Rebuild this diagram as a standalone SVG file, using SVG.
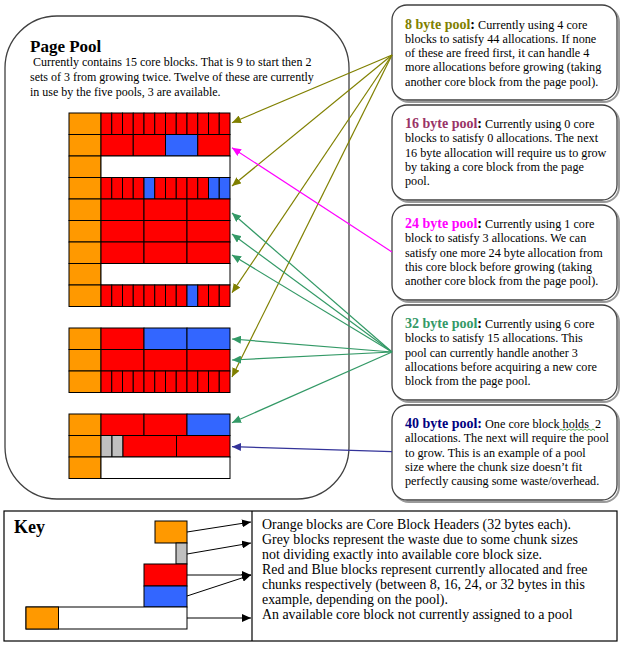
<svg xmlns="http://www.w3.org/2000/svg" width="622" height="645" viewBox="0 0 622 645">
<defs>
<style>
text{font-family:"Liberation Serif","Times New Roman",serif;fill:#000}
.body{font-size:12.2px}
.pp{font-size:12px}
.key{font-size:13.9px}
.ttl{font-size:14px;font-weight:bold}
.h{fill:#FF9900;stroke:#000;stroke-width:1}
.r{fill:#FF0000;stroke:#000;stroke-width:1}
.b{fill:#3366FF;stroke:#000;stroke-width:1}
.g{fill:#C0C0C0;stroke:#000;stroke-width:1}
.w{fill:#FFFFFF;stroke:#000;stroke-width:1}
.box{fill:#FFFFFF;stroke:#404040;stroke-width:1.3}
.shadow{fill:none;stroke:#9a9a9a;stroke-width:2}
.ol{stroke:#808000;stroke-width:1.2;fill:none}
.gr{stroke:#339966;stroke-width:1.2;fill:none}
.mg{stroke:#FF00FF;stroke-width:1.2;fill:none}
.nv{stroke:#333399;stroke-width:1.2;fill:none}
.kl{stroke:#000;stroke-width:1;fill:none}
</style>
<marker id="mOl" markerWidth="10" markerHeight="8" refX="9" refY="4" orient="auto" markerUnits="userSpaceOnUse"><path d="M0,0 L9,4 L0,8 z" fill="#808000"/></marker>
<marker id="mGr" markerWidth="10" markerHeight="8" refX="9" refY="4" orient="auto" markerUnits="userSpaceOnUse"><path d="M0,0 L9,4 L0,8 z" fill="#339966"/></marker>
<marker id="mMg" markerWidth="10" markerHeight="8" refX="9" refY="4" orient="auto" markerUnits="userSpaceOnUse"><path d="M0,0 L9,4 L0,8 z" fill="#FF00FF"/></marker>
<marker id="mNv" markerWidth="10" markerHeight="8" refX="9" refY="4" orient="auto" markerUnits="userSpaceOnUse"><path d="M0,0 L9,4 L0,8 z" fill="#333399"/></marker>
<marker id="mBk" markerWidth="10" markerHeight="8" refX="9" refY="4" orient="auto" markerUnits="userSpaceOnUse"><path d="M0,0 L9,4 L0,8 z" fill="#000"/></marker>
</defs>
<rect width="622" height="645" fill="#FFFFFF"/>

<g id="page-pool">
<rect x="5" y="16" width="344" height="483" rx="52" ry="52" fill="#FFFFFF" stroke="#404040" stroke-width="1.3"/>
<text x="30" y="52" style="font-size:17px;font-weight:bold">Page Pool</text>
<text class="pp" x="33" y="66">Currently contains 15 core blocks. That is 9 to start then 2</text>
<text class="pp" x="30" y="81">sets of 3 from growing twice. Twelve of these are currently</text>
<text class="pp" x="30" y="96">in use by the five pools, 3 are available.</text>
</g>

<g id="blocks-group1">
<rect class="h" x="69" y="113" width="32" height="21.5"/>
<rect class="r" x="101" y="113" width="10.75" height="21.5"/><rect class="r" x="111.75" y="113" width="10.75" height="21.5"/><rect class="r" x="122.5" y="113" width="10.75" height="21.5"/><rect class="r" x="133.25" y="113" width="10.75" height="21.5"/><rect class="r" x="144" y="113" width="10.75" height="21.5"/><rect class="r" x="154.75" y="113" width="10.75" height="21.5"/><rect class="r" x="165.5" y="113" width="10.75" height="21.5"/><rect class="r" x="176.25" y="113" width="10.75" height="21.5"/><rect class="r" x="187" y="113" width="10.75" height="21.5"/><rect class="r" x="197.75" y="113" width="10.75" height="21.5"/><rect class="r" x="208.5" y="113" width="10.75" height="21.5"/><rect class="r" x="219.25" y="113" width="10.75" height="21.5"/>
<rect class="h" x="69" y="134.5" width="32" height="21.5"/>
<rect class="r" x="101" y="134.5" width="32.25" height="21.5"/><rect class="r" x="133.25" y="134.5" width="32.25" height="21.5"/><rect class="b" x="165.5" y="134.5" width="32.25" height="21.5"/><rect class="r" x="197.75" y="134.5" width="32.25" height="21.5"/>
<rect class="h" x="69" y="156" width="32" height="21.5"/>
<rect class="w" x="101" y="156" width="129" height="21.5"/>
<rect class="h" x="69" y="177.5" width="32" height="21.5"/>
<rect class="r" x="101" y="177.5" width="10.75" height="21.5"/><rect class="r" x="111.75" y="177.5" width="10.75" height="21.5"/><rect class="r" x="122.5" y="177.5" width="10.75" height="21.5"/><rect class="r" x="133.25" y="177.5" width="10.75" height="21.5"/><rect class="b" x="144" y="177.5" width="10.75" height="21.5"/><rect class="r" x="154.75" y="177.5" width="10.75" height="21.5"/><rect class="r" x="165.5" y="177.5" width="10.75" height="21.5"/><rect class="r" x="176.25" y="177.5" width="10.75" height="21.5"/><rect class="r" x="187" y="177.5" width="10.75" height="21.5"/><rect class="r" x="197.75" y="177.5" width="10.75" height="21.5"/><rect class="b" x="208.5" y="177.5" width="10.75" height="21.5"/><rect class="b" x="219.25" y="177.5" width="10.75" height="21.5"/>
<rect class="h" x="69" y="199" width="32" height="21.5"/>
<rect class="r" x="101" y="199" width="43" height="21.5"/><rect class="r" x="144" y="199" width="43" height="21.5"/><rect class="r" x="187" y="199" width="43" height="21.5"/>
<rect class="h" x="69" y="220.5" width="32" height="21.5"/>
<rect class="r" x="101" y="220.5" width="43" height="21.5"/><rect class="r" x="144" y="220.5" width="43" height="21.5"/><rect class="r" x="187" y="220.5" width="43" height="21.5"/>
<rect class="h" x="69" y="242" width="32" height="21.5"/>
<rect class="r" x="101" y="242" width="43" height="21.5"/><rect class="r" x="144" y="242" width="43" height="21.5"/><rect class="r" x="187" y="242" width="43" height="21.5"/>
<rect class="h" x="69" y="263.5" width="32" height="21.5"/>
<rect class="w" x="101" y="263.5" width="129" height="21.5"/>
<rect class="h" x="69" y="285" width="32" height="21.5"/>
<rect class="r" x="101" y="285" width="10.75" height="21.5"/><rect class="r" x="111.75" y="285" width="10.75" height="21.5"/><rect class="r" x="122.5" y="285" width="10.75" height="21.5"/><rect class="r" x="133.25" y="285" width="10.75" height="21.5"/><rect class="r" x="144" y="285" width="10.75" height="21.5"/><rect class="r" x="154.75" y="285" width="10.75" height="21.5"/><rect class="r" x="165.5" y="285" width="10.75" height="21.5"/><rect class="r" x="176.25" y="285" width="10.75" height="21.5"/><rect class="b" x="187" y="285" width="10.75" height="21.5"/><rect class="r" x="197.75" y="285" width="10.75" height="21.5"/><rect class="r" x="208.5" y="285" width="10.75" height="21.5"/><rect class="r" x="219.25" y="285" width="10.75" height="21.5"/>
</g>

<g id="blocks-group2">
<rect class="h" x="69" y="328" width="32" height="21.5"/>
<rect class="r" x="101" y="328" width="43" height="21.5"/><rect class="b" x="144" y="328" width="43" height="21.5"/><rect class="b" x="187" y="328" width="43" height="21.5"/>
<rect class="h" x="69" y="349.5" width="32" height="21.5"/>
<rect class="r" x="101" y="349.5" width="43" height="21.5"/><rect class="r" x="144" y="349.5" width="43" height="21.5"/><rect class="r" x="187" y="349.5" width="43" height="21.5"/>
<rect class="h" x="69" y="371" width="32" height="21.5"/>
<rect class="r" x="101" y="371" width="10.75" height="21.5"/><rect class="r" x="111.75" y="371" width="10.75" height="21.5"/><rect class="r" x="122.5" y="371" width="10.75" height="21.5"/><rect class="r" x="133.25" y="371" width="10.75" height="21.5"/><rect class="r" x="144" y="371" width="10.75" height="21.5"/><rect class="r" x="154.75" y="371" width="10.75" height="21.5"/><rect class="r" x="165.5" y="371" width="10.75" height="21.5"/><rect class="r" x="176.25" y="371" width="10.75" height="21.5"/><rect class="r" x="187" y="371" width="10.75" height="21.5"/><rect class="r" x="197.75" y="371" width="10.75" height="21.5"/><rect class="r" x="208.5" y="371" width="10.75" height="21.5"/><rect class="r" x="219.25" y="371" width="10.75" height="21.5"/>
</g>

<g id="blocks-group3">
<rect class="h" x="69" y="414" width="32" height="21.5"/>
<rect class="r" x="101" y="414" width="43" height="21.5"/><rect class="r" x="144" y="414" width="43" height="21.5"/><rect class="b" x="187" y="414" width="43" height="21.5"/>
<rect class="h" x="69" y="435.5" width="32" height="21.5"/>
<rect class="g" x="101" y="435.5" width="11" height="21.5"/><rect class="g" x="112" y="435.5" width="11" height="21.5"/><rect class="r" x="123" y="435.5" width="53.5" height="21.5"/><rect class="r" x="176.5" y="435.5" width="53.5" height="21.5"/>
<rect class="h" x="69" y="457" width="32" height="21.5"/>
<rect class="w" x="101" y="457" width="129" height="21.5"/>
</g>

<g id="pool-8">
<rect class="shadow" x="394" y="7" width="225" height="95" rx="15"/>
<rect class="box" x="392" y="5" width="225" height="95" rx="15"/>
<text class="body" x="405" y="28.5"><tspan class="ttl" fill="#808000">8 byte pool</tspan><tspan class="ttl">:</tspan> Currently using 4 core</text>
<text class="body" x="405" y="42.8">blocks to satisfy 44 allocations. If none</text>
<text class="body" x="405" y="57.1">of these are freed first, it can handle 4</text>
<text class="body" x="405" y="71.4">more allocations before growing (taking</text>
<text class="body" x="405" y="85.7">another core block from the page pool).</text>
</g>

<g id="pool-16">
<rect class="shadow" x="394" y="107" width="225" height="95" rx="15"/>
<rect class="box" x="392" y="105" width="225" height="95" rx="15"/>
<text class="body" x="405" y="128"><tspan class="ttl" fill="#993366">16 byte pool</tspan><tspan class="ttl">:</tspan> Currently using 0 core</text>
<text class="body" x="405" y="142.3">blocks to satisfy 0 allocations. The next</text>
<text class="body" x="405" y="156.6">16 byte allocation will require us to grow</text>
<text class="body" x="405" y="170.9">by taking a core block from the page</text>
<text class="body" x="405" y="185.2">pool.</text>
</g>

<g id="pool-24">
<rect class="shadow" x="394" y="207" width="225" height="95" rx="15"/>
<rect class="box" x="392" y="205" width="225" height="95" rx="15"/>
<text class="body" x="405" y="228"><tspan class="ttl" fill="#FF00FF">24 byte pool</tspan><tspan class="ttl">:</tspan> Currently using 1 core</text>
<text class="body" x="405" y="242.3">block to satisfy 3 allocations. We can</text>
<text class="body" x="405" y="256.6">satisfy one more 24 byte allocation from</text>
<text class="body" x="405" y="270.9">this core block before growing (taking</text>
<text class="body" x="405" y="285.2">another core block from the page pool).</text>
</g>

<g id="pool-32">
<rect class="shadow" x="394" y="307" width="225" height="95" rx="15"/>
<rect class="box" x="392" y="305" width="225" height="95" rx="15"/>
<text class="body" x="405" y="328"><tspan class="ttl" fill="#339966">32 byte pool</tspan><tspan class="ttl">:</tspan> Currently using 6 core</text>
<text class="body" x="405" y="342.3">blocks to satisfy 15 allocations. This</text>
<text class="body" x="405" y="356.6">pool can currently handle another 3</text>
<text class="body" x="405" y="370.9">allocations before acquiring a new core</text>
<text class="body" x="405" y="385.2">block from the page pool.</text>
</g>

<g id="pool-40">
<rect class="shadow" x="394" y="407" width="225" height="95" rx="15"/>
<rect class="box" x="392" y="405" width="225" height="95" rx="15"/>
<text class="body" x="405" y="428"><tspan class="ttl" fill="#000080">40 byte pool:</tspan> One core block holds&#160; 2</text>
<path d="M559,430.5 l2,-1.5 l2,1.5 l2,-1.5 l2,1.5 l2,-1.5 l2,1.5 l2,-1.5 l2,1.5 l2,-1.5 l2,1.5 l2,-1.5 l2,1.5 l2,-1.5 l2,1.5 l2,-1.5 l2,1.5 l2,-1.5 l2,1.5" fill="none" stroke="#339933" stroke-width="0.8"/>
<text class="body" x="405" y="442.3">allocations. The next will require the pool</text>
<text class="body" x="405" y="456.6">to grow. This is an example of a pool</text>
<text class="body" x="405" y="470.9">size where the chunk size doesn’t fit</text>
<text class="body" x="405" y="485.2">perfectly causing some waste/overhead.</text>
</g>

<g id="connectors">
<line class="ol" x1="392" y1="55" x2="232" y2="122.7" marker-end="url(#mOl)"/>
<line class="ol" x1="392" y1="55" x2="232" y2="186" marker-end="url(#mOl)"/>
<line class="ol" x1="392" y1="55" x2="232" y2="292.7" marker-end="url(#mOl)"/>
<line class="ol" x1="392" y1="55" x2="232" y2="377" marker-end="url(#mOl)"/>
<line class="mg" x1="392" y1="252" x2="232" y2="147.7" marker-end="url(#mMg)"/>
<line class="gr" x1="392" y1="352" x2="232" y2="213" marker-end="url(#mGr)"/>
<line class="gr" x1="392" y1="352" x2="232" y2="234" marker-end="url(#mGr)"/>
<line class="gr" x1="392" y1="352" x2="232" y2="255" marker-end="url(#mGr)"/>
<line class="gr" x1="392" y1="352" x2="232" y2="339" marker-end="url(#mGr)"/>
<line class="gr" x1="392" y1="352" x2="232" y2="360" marker-end="url(#mGr)"/>
<line class="gr" x1="392" y1="352" x2="232" y2="422.7" marker-end="url(#mGr)"/>
<line class="nv" x1="392" y1="451.7" x2="232" y2="446.7" marker-end="url(#mNv)"/>
</g>

<g id="key">
<rect x="4" y="511" width="613" height="130" fill="#FFFFFF" stroke="#000" stroke-width="1.2"/>
<line x1="252" y1="511" x2="252" y2="641" stroke="#000" stroke-width="1.2"/>
<text x="14" y="533" style="font-size:18px;font-weight:bold">Key</text>
<rect class="h" x="155" y="521" width="32" height="22"/>
<rect class="g" x="176" y="543" width="11" height="21"/>
<rect class="r" x="144" y="564" width="43" height="22"/>
<rect class="b" x="144" y="586" width="43" height="21"/>
<rect class="w" x="26" y="607" width="161" height="22"/>
<rect class="h" x="26" y="607" width="32.5" height="22"/>
<text class="key" x="262" y="528.5">Orange blocks are Core Block Headers (32 bytes each).</text>
<text class="key" x="262" y="543.5">Grey blocks represent the waste due to some chunk sizes</text>
<text class="key" x="262" y="558.5">not dividing exactly into available core block size.</text>
<text class="key" x="262" y="573.5">Red and Blue blocks represent currently allocated and free</text>
<text class="key" x="262" y="588.5">chunks respectively (between 8, 16, 24, or 32 bytes in this</text>
<text class="key" x="262" y="603.5">example, depending on the pool).</text>
<text class="key" x="262" y="618.5">An available core block not currently assigned to a pool</text>
</g>

<g id="key-connectors">
<line class="kl" x1="187" y1="532" x2="251" y2="522" marker-end="url(#mBk)"/>
<line class="kl" x1="187" y1="554" x2="251" y2="543" marker-end="url(#mBk)"/>
<line class="kl" x1="187" y1="575" x2="251" y2="575" marker-end="url(#mBk)"/>
<line class="kl" x1="187" y1="596" x2="251" y2="575" marker-end="url(#mBk)"/>
<line class="kl" x1="187" y1="618" x2="251" y2="618" marker-end="url(#mBk)"/>
</g>
</svg>
